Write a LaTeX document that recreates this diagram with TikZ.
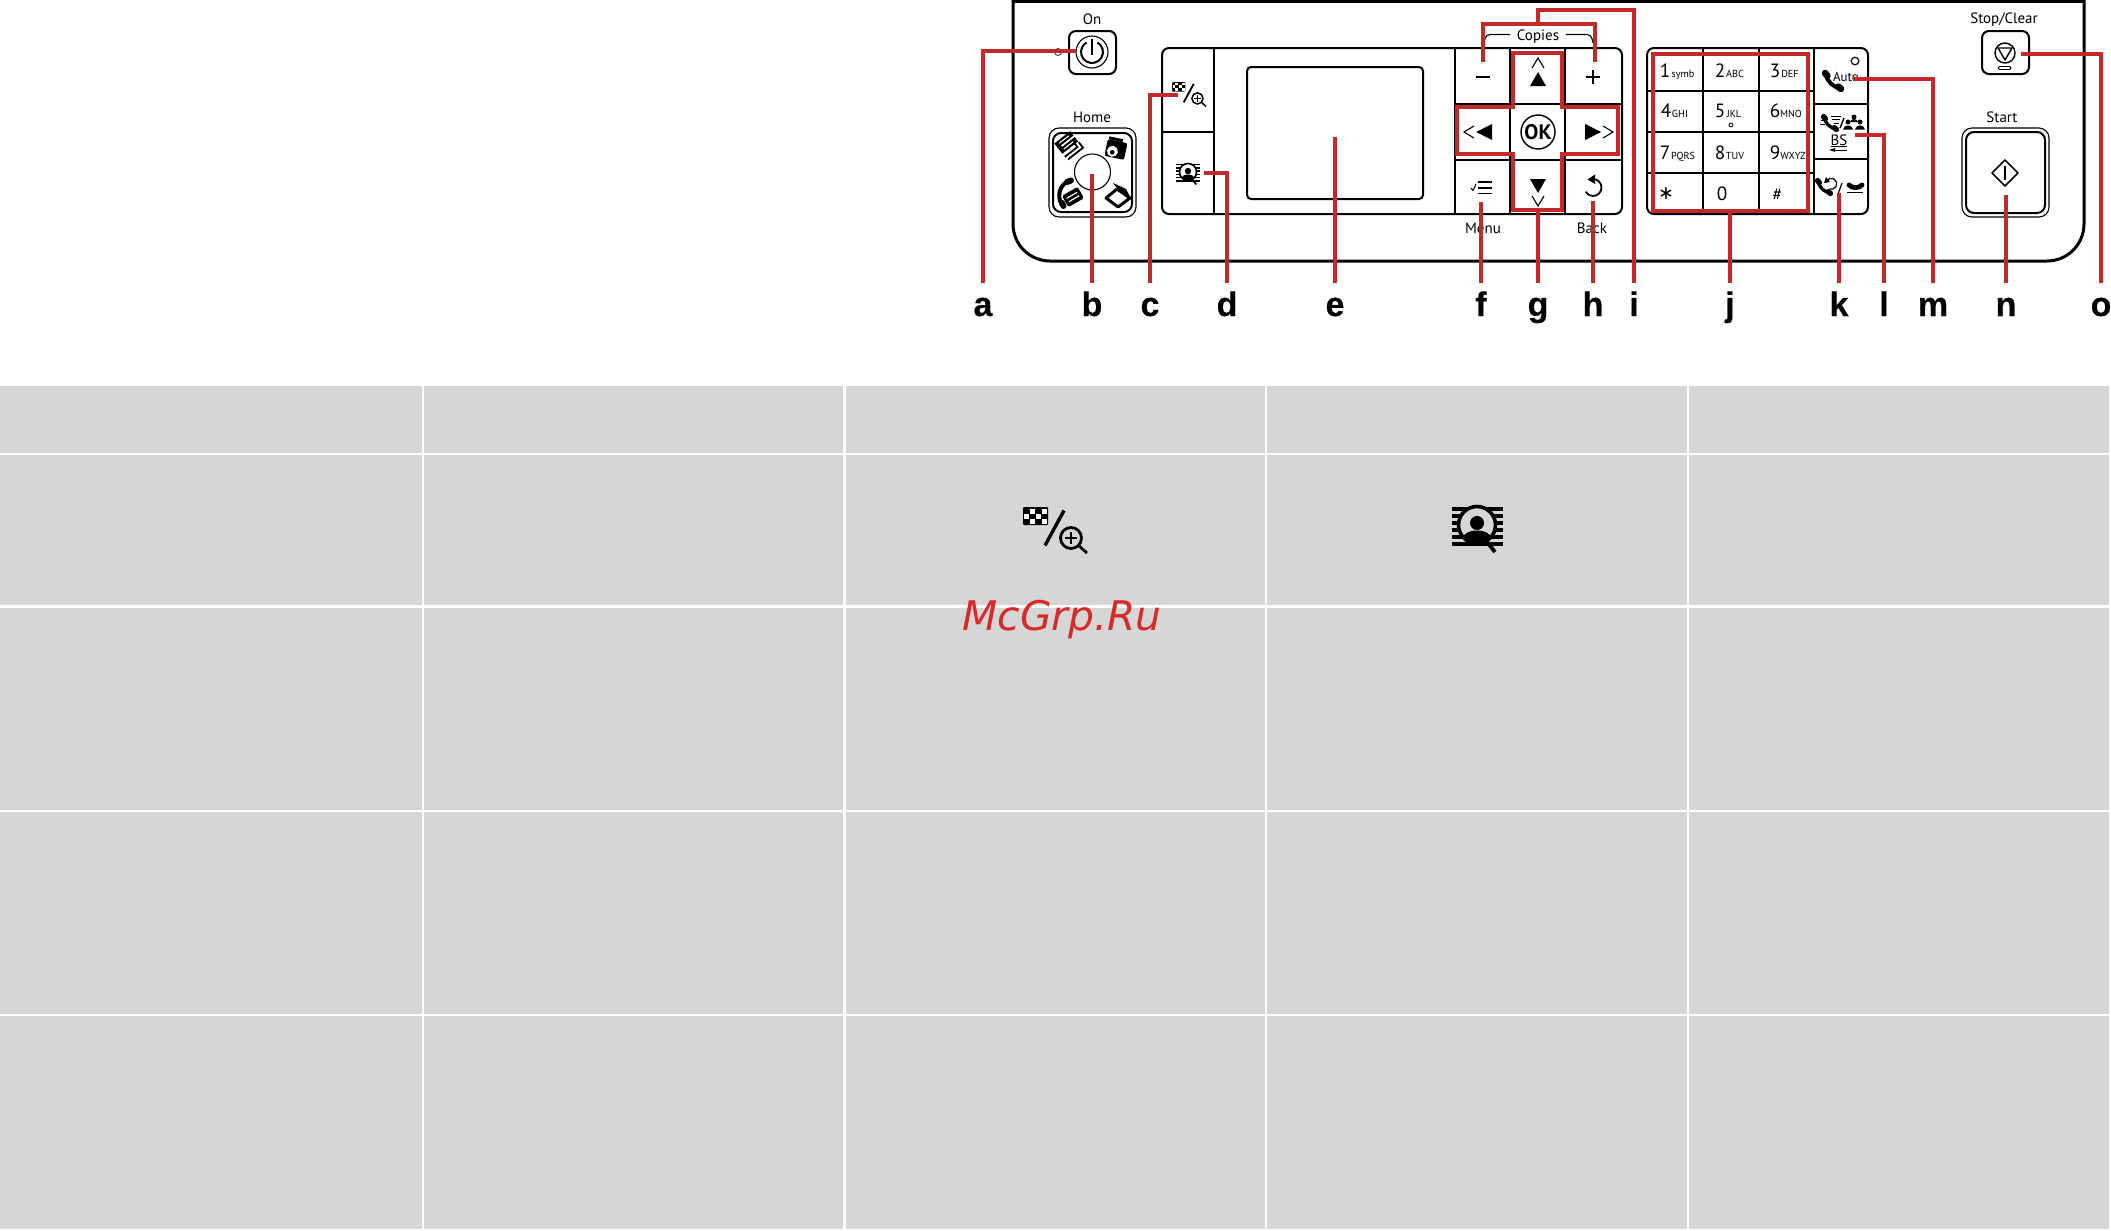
\documentclass[tikz,border=0pt]{standalone}
\usepackage{fontspec}
\setmainfont{Liberation Sans}
\setsansfont{PT Sans}
\newfontfamily\wmfont{DejaVu Sans}
\newfontfamily\lblfont[BoldFeatures={FakeBold=0.4}]{Liberation Sans}
\usetikzlibrary{calc}
\definecolor{cellgray}{HTML}{D6D6D6}
\definecolor{callred}{HTML}{C02A28}
\definecolor{wmred}{HTML}{D92A2A}
\tikzset{
  callout/.style={draw=callred,line width=2.05pt,miter limit=10},
  letter/.style={font=\lblfont\fontsize{17}{17}\selectfont\bfseries,anchor=base,inner sep=0pt,text height=16.5pt},
  ptext/.style={font=\sffamily\fontsize{7.5}{7.5}\selectfont,inner sep=0pt},
  digit/.style={font=\sffamily\fontsize{9.6}{9.6}\selectfont,inner sep=0pt,anchor=base},
  tiny/.style={font=\sffamily\fontsize{5.1}{5.1}\selectfont,inner sep=0pt,anchor=base},
  thick1/.style={line width=1pt},
  hair/.style={line width=.55pt},
  tblline/.style={draw=white,line width=1.1pt},
}
\newcommand{\chkIcon}[3]{%
\begin{scope}[shift={(#1,#2)},scale=#3]
 \fill[rounded corners=.5pt] (0,0) rectangle (25,18);
 \foreach \a/\b in {6.5/1.5,19/1.5,1/6.5,13/6.5,6.5/11.5,19/11.5}
   \fill[white] (\a,\b) rectangle ++(5.3,5);
 \draw[line width=#3*1.7pt] (22,38.5) -- (41,3.5);
 \draw[line width=#3*1.4pt] (48,31) circle[radius=10.5];
 \draw[line width=#3*1.2pt] (42,31) -- (54,31) (48,25) -- (48,37);
 \draw[line width=#3*1.4pt] (55.5,38.5) -- (64,46);
\end{scope}}
\newcommand{\faceIcon}[4]{%
\begin{scope}[shift={(#1,#2)},scale=#3]
 \foreach \yy in {-16,-9,-2,5,12,19}
   \draw[line width=#3*1.7pt] (-25.5,\yy) -- (25.5,\yy);
 \draw[line width=#3*1.8pt,fill=#4] (0,0) circle[radius=18.5];
 \fill (0,-2) circle[radius=7];
 \begin{scope}
  \clip (0,0) circle[radius=19];
  \fill (0,13) ellipse[x radius=14,y radius=7.5];
 \end{scope}
 \draw[line width=#3*1.9pt] (10,17) -- (18,27);
\end{scope}}
\newcommand{\handsetIcon}[3]{% centre x,y, scale; runs upper left to lower right
\begin{scope}[shift={(#1,#2)},scale=#3]
 \draw[line width=#3*1.9pt] (-7,-7) .. controls (-6,0) and (0,6) .. (7,7);
 \draw[line width=#3*3.2pt,line cap=round] (-7.5,-7.5) -- (-5.5,-5);
 \draw[line width=#3*3.2pt,line cap=round] (7.5,7.5) -- (5,5.5);
\end{scope}}
\begin{document}
\begin{tikzpicture}[x=.5pt,y=-.5pt]
\useasboundingbox (0,0) rectangle (2111,1231);
\fill[white] (0,0) rectangle (2111,1231);
% table
\fill[cellgray] (0,386) rectangle (2109,1229);
\foreach \xx in {423,844.5,1266,1688} \draw[tblline] (\xx,386) -- (\xx,1229);
\foreach \yy in {453.7,606.5,811,1015} \draw[tblline] (0,\yy) -- (2109,\yy);
\chkIcon{1023}{507}{1}
\faceIcon{1477}{525}{1}{cellgray}
\node[inner sep=0pt,anchor=base west,text=wmred,font=\wmfont\itshape\fontsize{20.4}{20.4}\selectfont] (wm) at (962,630) {McGrp.Ru};
% panel
\draw[line width=1.5pt,rounded corners=18.5pt] (1013,0) -- (1013,261) -- (2084,261) -- (2084,0);
\draw[line width=1.5pt] (1013,1) -- (2084,1);
% on button
\node[ptext] (ton) at (1092,19) {On};
\draw[thick1,rounded corners=3.5pt] (1069,31) rectangle (1116,74);
\draw[hair] (1092,52) circle[radius=16];
\draw[line width=1pt] (1097.5,42.5) arc[radius=11,start angle=-60,end angle=240];
\draw[line width=1pt] (1092,39) -- (1092,55);
\draw[line width=.5pt,draw=black!70] (1058,52) circle[radius=3.5];
% home button
\node[ptext] (thome) at (1092,117) {Home};
\draw[hair,rounded corners=5pt] (1049,128) rectangle (1136,217);
\draw[thick1,rounded corners=4pt] (1053,133) rectangle (1132,212);
\draw[hair] (1092.5,172) circle[radius=18];
% home icons
\begin{scope}[shift={(1069,146)},rotate=38]
 \fill (-10,-11) rectangle (10,-5.5);
 \fill (-10,-3.5) rectangle (10,2);
 \draw[white,line width=.55pt] (-6,-8.2) -- (6,-8.2) (-6,-0.8) -- (6,-0.8);
 \fill (-10,-6) rectangle (-6,-3);
 \draw[line width=.9pt] (-10,6) -- (6,6) -- (6,0);
 \draw[line width=.9pt] (-9,10) -- (10,10) -- (10,3);
\end{scope}
\begin{scope}[shift={(1116,149)},rotate=-12]
 \fill[rounded corners=1pt] (-10,-8) rectangle (10,9);
 \fill (-9,-11) rectangle (5,-8);
 \fill[white] (-3,3) circle[radius=5.5];
 \fill (-3,4) circle[radius=2.3];
\end{scope}
\begin{scope}[shift={(1073,197)},rotate=30]
 \fill[rounded corners=.8pt] (-9,-6.5) rectangle (9,6.5);
 \draw[white,line width=.6pt] (-6,-2) -- (6,-2) (-6,2) -- (6,2);
\end{scope}
\draw[line width=2pt] (1070,181) .. controls (1060,183) and (1056,196) .. (1062,205);
\draw[line width=3pt,line cap=round] (1067,182) -- (1071,180.5) (1062,203) -- (1063.5,206);
\draw[line width=1.5pt,line join=round,fill=white] (1117,189) -- (1130,198) -- (1118,207) -- (1106,198) -- cycle;
\fill (1113,183) -- (1126,189) -- (1130,197) -- (1116,187) -- cycle;
% left block
\draw[thick1,rounded corners=3.5pt] (1162,48) rectangle (1622,214);
\draw[thick1] (1214,48) -- (1214,214);
\draw[thick1] (1162,132) -- (1214,132);
\draw[thick1,rounded corners=2pt] (1247,67) rectangle (1423,199);
\chkIcon{1172}{82}{.53}
\faceIcon{1188}{172}{.46}{white}
% cells
\draw[thick1] (1455,48) -- (1455,214) (1510,48) -- (1510,214) (1565,48) -- (1565,214);
\draw[thick1] (1455,104) -- (1622,104) (1455,160) -- (1622,160);
% copies
\node[ptext] (tcopies) at (1538,36.5) {Copies};
\draw[hair,rounded corners=2pt] (1510,34.5) -- (1486,34.5) -- (1484,43);
\draw[hair,rounded corners=2pt] (1566,34.5) -- (1591,34.5) -- (1593,43);
% glyphs in cells
\draw[line width=1.2pt] (1476,77) -- (1490,77);
\draw[line width=.8pt] (1586,77) -- (1600,77) (1593,70) -- (1593,84);
\fill (1538,72) -- (1546,86) -- (1530,86) -- cycle;
\draw[hair] (1532,68) -- (1538,58) -- (1544,68);
\fill (1538,193) -- (1546,179) -- (1530,179) -- cycle;
\draw[hair] (1532,196) -- (1538,206) -- (1544,196);
\fill (1476,132) -- (1492,124) -- (1492,140) -- cycle;
\draw[hair] (1474,126) -- (1464,132) -- (1474,138);
\fill (1601,132) -- (1585,124) -- (1585,140) -- cycle;
\draw[hair] (1603,126) -- (1613,132) -- (1603,138);
\draw[line width=.7pt] (1538,132) circle[radius=17];
\node[font=\sffamily\bfseries\fontsize{10.5}{10.5}\selectfont,inner sep=0pt] (tok) at (1538,132) {OK};
\draw[line width=.9pt] (1478,182) -- (1492,182) (1478,188) -- (1492,188) (1478,193.5) -- (1492,193.5);
\draw[line width=.5pt] (1471,188) -- (1473,190.5) -- (1476,184);
\draw[line width=.9pt] (1593,179) arc[radius=8.5,start angle=-90,end angle=150];
\fill (1587.5,179.5) -- (1595,174.5) -- (1595,184) -- cycle;
\node[ptext] (tmenu) at (1483,228) {Menu};
\node[ptext] (tback) at (1592,228) {Back};
% keypad
\draw[thick1,rounded corners=3.5pt] (1647,48) rectangle (1868,214);
\draw[thick1] (1703,48) -- (1703,214) (1759,48) -- (1759,214) (1814,48) -- (1814,214);
\draw[thick1] (1647,91) -- (1814,91) (1647,132) -- (1814,132) (1647,173) -- (1814,173);
\draw[thick1] (1814,104) -- (1868,104) (1814,159) -- (1868,159);
\foreach \n/\d/\x/\y in {a/1/1665/77,b/2/1720/77,c/3/1775/77,d/4/1666/117,e/5/1720/117,f/6/1775/117,g/7/1665/159,h/8/1720/159,i/9/1775/159,j/0/1722/200}
  \node[digit] (dg\n) at (\x,\y) {\d};
\node[inner sep=0pt,font=\wmfont\fontsize{9.5}{9.5}\selectfont] (dgs) at (1666,194) {∗};
\node[digit] (dgh) at (1777.5,200) {\fontsize{8.8}{8.8}\selectfont\#};
\foreach \n/\t/\x/\y in {a/symb/1683/77,b/ABC/1735/77,c/DEF/1790/77,d/GHI/1680/117,e/JKL/1734/117,f/MNO/1791/117,g/PQRS/1683/159,h/TUV/1735/159,i/WXYZ/1793/159}
  \node[tiny] (sm\n) at (\x,\y) {\t};
\draw[line width=.4pt] (1731,125) circle[radius=2];
% right keypad column
\draw[line width=.6pt] (1855,61) circle[radius=3.8];
\handsetIcon{1833}{81}{1.05}
\node[ptext,font=\sffamily\fontsize{6.5}{6.5}\selectfont] (tauto) at (1846,77) {Auto};
\handsetIcon{1830}{123}{.85}
\draw[line width=.5pt] (1822,116) -- (1827,116) (1831,116) -- (1841,116) (1821,120) -- (1825,120) (1832,119.5) -- (1840,119.5) (1820,124) -- (1825,124) (1834,123) -- (1839,123);
\draw[line width=.7pt] (1840,128) -- (1844,118);
\fill (1854,117) circle[radius=2.5] (1848,122) circle[radius=2.5] (1860,122) circle[radius=2.5];
\fill (1843,129.5) .. controls (1844,124) and (1852,124) .. (1853,129.5) -- cycle;
\fill (1855,129.5) .. controls (1856,124) and (1864,124) .. (1865,129.5) -- cycle;
\fill (1850,122) .. controls (1851,118) and (1857,118) .. (1858,122) -- cycle;
\node[ptext] (tbs) at (1839,140) {BS};
\draw[line width=.5pt] (1831,146.5) -- (1847,146.5);
\draw[line width=.5pt] (1847,150) -- (1833,150);
\fill (1829,150) -- (1835,148) -- (1835,152) -- cycle;
\handsetIcon{1824}{187}{.85}
\draw[line width=.6pt] (1826.5,181) arc[radius=5.5,start angle=-150,end angle=110];
\fill (1824,183) -- (1826,177) -- (1830,182) -- cycle;
\draw[line width=.6pt] (1838,194) -- (1842,183);
\draw[line width=2.4pt,line cap=round] (1849,185) .. controls (1852,188.5) and (1859,188.5) .. (1862,185);
\draw[line width=.7pt] (1847,192.5) -- (1863,192.5);
% stop
\node[ptext] (tstop) at (2004,20) {Stop/Clear};
\draw[thick1,rounded corners=3.5pt] (1982,31) rectangle (2029,74);
\draw[line width=.7pt] (2005,53) circle[radius=10];
\draw[line width=.7pt,line join=round] (1998,48) -- (2012,48) -- (2005,60) -- cycle;
\draw[line width=.45pt,rounded corners=.7pt] (1998,66.5) rectangle (2011,69.5);
% start
\node[ptext] (tstart) at (2002,117) {Start};
\draw[hair,rounded corners=5pt] (1962,128) rectangle (2049,217);
\draw[thick1,rounded corners=4pt] (1966,132) rectangle (2045,213);
\draw[line width=.8pt,line join=round] (2005,160) -- (2018,173) -- (2005,186) -- (1992,173) -- cycle;
\draw[line width=.8pt] (2005,166) -- (2005,180);
% labels
\foreach \n/\x in {a/983,b/1092,c/1150,d/1227,e/1335,f/1481,g/1538,h/1593,i/1634,j/1730,k/1839,l/1884,m/1933,n/2006,o/2101}
  \node[letter] (l\n) at (\x,316) {\n};
% callouts
\coordinate (ca) at (1076,51);   \draw[callout] (ca) -| (la.north);
\coordinate (cb) at (1092,174);  \draw[callout] (cb) -- (lb.north);
\coordinate (cc) at (1178,95);   \draw[callout] (cc) -| (lc.north);
\coordinate (cd) at (1204,173);  \draw[callout] (cd) -| (ld.north);
\coordinate (ce) at (1335,137);  \draw[callout] (ce) -- (le.north);
\coordinate (cf) at (1481,202);  \draw[callout] (cf) -- (lf.north);
\coordinate (cg) at (1538,210);  \draw[callout] (cg) -- (lg.north);
\coordinate (ch) at (1593,201);  \draw[callout] (ch) -- (lh.north);
\coordinate (cj) at (1730,211);  \draw[callout] (cj) -- (lj.north);
\coordinate (ck) at (1839,193);  \draw[callout] (ck) -- (lk.north);
\coordinate (cl) at (1855,135);  \draw[callout] (cl) -| (ll.north);
\coordinate (cm) at (1853,79);   \draw[callout] (cm) -| (lm.north);
\coordinate (cn) at (2006,195);  \draw[callout] (cn) -- (ln.north);
\coordinate (co) at (2021,54);   \draw[callout] (co) -| (lo.north);
\coordinate (iL) at (1483,62); \coordinate (iR) at (1595,62); \coordinate (iM) at (1538,24); \coordinate (iT) at (1538,10);
\draw[callout] (iL) |- (iM) -| (iR);
\draw[callout] (iM) |- (iT) -| (li.north);
\draw[callout] (1513,53) -- (1562,53) -- (1562,107) -- (1618,107) -- (1618,154) -- (1562,154) -- (1562,210) -- (1513,210) -- (1513,154) -- (1457,154) -- (1457,107) -- (1513,107) -- cycle;
\draw[callout] (1653,54) rectangle (1808,211);
\end{tikzpicture}
\end{document}
